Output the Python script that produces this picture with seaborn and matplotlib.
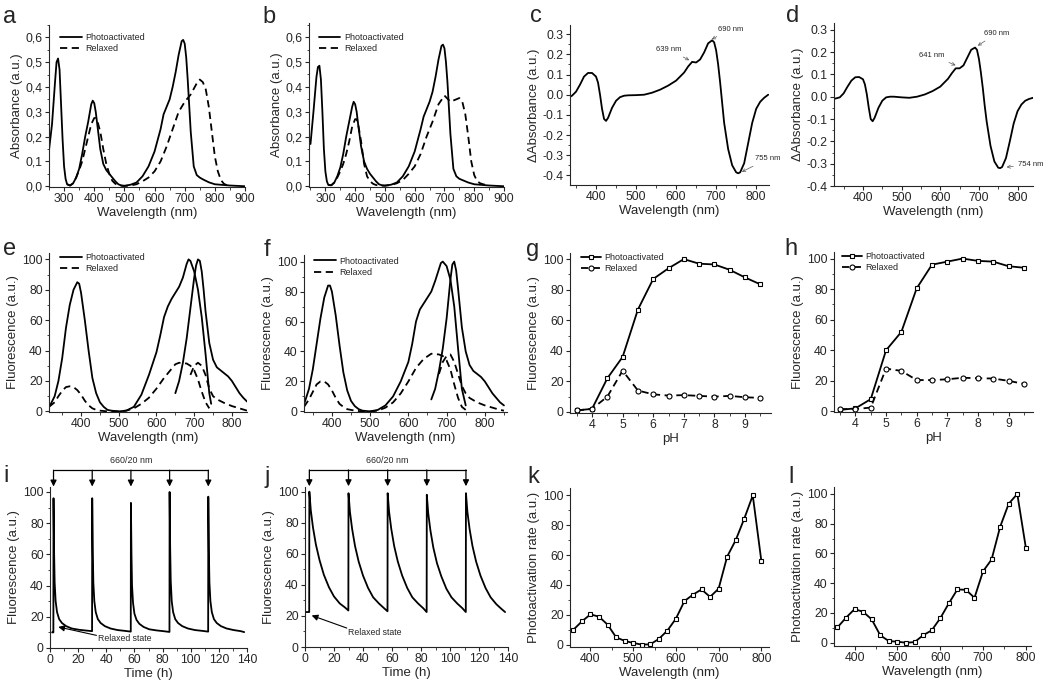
import numpy as np
import pandas as pd
import seaborn as sns
import matplotlib.pyplot as plt
from matplotlib.ticker import MultipleLocator, AutoMinorLocator, FuncFormatter

# ---------------- data ----------------
# a / b : absorbance spectra
abs_wl_pa = [250, 260, 270, 275, 280, 285, 290, 295, 300, 305,
             310, 320, 330, 340, 350, 360, 370, 380, 390, 395,
             400, 405, 410, 420, 430, 440, 450, 460, 470, 480,
             490, 500, 520, 540, 560, 580, 600, 620, 630, 640,
             650, 660, 670, 680, 690, 695, 700, 705, 710, 720,
             730, 740, 750, 760, 780, 800, 850, 900]
a_abs_pa = [0.145, 0.25, 0.42, 0.5, 0.515, 0.47, 0.33, 0.19, 0.08, 0.03,
            0.008, 0.003, 0.012, 0.035, 0.07, 0.13, 0.2, 0.26, 0.33, 0.345,
            0.335, 0.3, 0.25, 0.15, 0.09, 0.065, 0.05, 0.035, 0.02, 0.008,
            0.003, 0.002, 0.006, 0.015, 0.04, 0.08, 0.14, 0.23, 0.29, 0.32,
            0.35, 0.4, 0.46, 0.53, 0.585, 0.59, 0.575, 0.52, 0.43, 0.22,
            0.08, 0.045, 0.035, 0.028, 0.016, 0.008, 0.003, 0.0]
b_abs_pa = [0.17, 0.3, 0.44, 0.48, 0.485, 0.43, 0.3, 0.15, 0.06, 0.02,
            0.005, 0.004, 0.015, 0.04, 0.075, 0.13, 0.2, 0.26, 0.32, 0.34,
            0.33, 0.3, 0.25, 0.16, 0.1, 0.07, 0.05, 0.035, 0.02, 0.008,
            0.004, 0.003, 0.006, 0.015, 0.04, 0.08, 0.14, 0.23, 0.28, 0.31,
            0.34, 0.38, 0.44, 0.51, 0.565, 0.57, 0.555, 0.5, 0.42, 0.21,
            0.07, 0.04, 0.03, 0.025, 0.015, 0.008, 0.003, 0.0]
abs_wl_rx = [310, 320, 330, 340, 350, 360, 370, 380, 390, 400,
             405, 410, 420, 430, 440, 450, 460, 470, 480, 500,
             520, 540, 560, 580, 600, 620, 640, 660, 680, 700,
             720, 740, 750, 760, 770, 780, 790, 800, 810, 820,
             830, 840, 850]
a_abs_rx = [0.008, 0.003, 0.012, 0.035, 0.065, 0.1, 0.15, 0.2, 0.25, 0.275,
            0.275, 0.265, 0.22, 0.15, 0.09, 0.05, 0.022, 0.01, 0.004, 0.001,
            0.003, 0.008, 0.02, 0.035, 0.06, 0.1, 0.16, 0.23, 0.3, 0.34,
            0.37, 0.415, 0.43, 0.42, 0.39, 0.32, 0.22, 0.12, 0.06, 0.025,
            0.01, 0.004, 0.0]
b_abs_rx = [0.005, 0.004, 0.015, 0.035, 0.06, 0.09, 0.13, 0.18, 0.24, 0.27,
            0.27, 0.25, 0.18, 0.09, 0.04, 0.02, 0.01, 0.005, 0.003, 0.002,
            0.005, 0.012, 0.025, 0.05, 0.08, 0.13, 0.2, 0.26, 0.33, 0.365,
            0.34, 0.35, 0.355, 0.34, 0.29, 0.2, 0.1, 0.045, 0.02, 0.012,
            0.008, 0.005, 0.003]

# c / d : difference spectra
c_wl = [335, 340, 350, 360, 370, 380, 390, 400, 405, 410,
        415, 420, 425, 430, 440, 450, 460, 470, 480, 500,
        520, 540, 560, 580, 600, 620, 630, 640, 650, 660,
        670, 680, 690, 695, 700, 705, 710, 715, 720, 730,
        740, 750, 755, 760, 770, 780, 790, 800, 810, 820,
        830]
c_dabs = [-0.01, -0.005, 0.015, 0.05, 0.09, 0.108, 0.108, 0.09, 0.06, 0.0,
          -0.07, -0.12, -0.13, -0.115, -0.065, -0.03, -0.012, -0.005, -0.003, -0.002,
          0.0, 0.01, 0.025, 0.045, 0.07, 0.11, 0.14, 0.163, 0.16, 0.175,
          0.21, 0.255, 0.27, 0.26, 0.22, 0.15, 0.06, -0.04, -0.14, -0.27,
          -0.35, -0.385, -0.39, -0.385, -0.34, -0.24, -0.14, -0.07, -0.035, -0.015,
          0.0]
d_wl = [325, 340, 350, 360, 370, 380, 390, 400, 405, 410,
        415, 420, 425, 430, 440, 450, 460, 470, 480, 500,
        520, 540, 560, 580, 600, 620, 630, 640, 650, 660,
        670, 680, 690, 695, 700, 705, 710, 715, 720, 730,
        740, 750, 755, 760, 770, 780, 790, 800, 810, 820,
        830, 840]
d_dabs = [-0.01, -0.003, 0.015, 0.045, 0.072, 0.087, 0.088, 0.078, 0.055, 0.01,
          -0.05, -0.1, -0.11, -0.095, -0.05, -0.018, -0.003, 0.0, 0.0, -0.003,
          -0.005, 0.0, 0.01, 0.025, 0.045, 0.08, 0.105, 0.127, 0.127, 0.14,
          0.175, 0.21, 0.22, 0.21, 0.17, 0.11, 0.04, -0.04, -0.11, -0.22,
          -0.29, -0.318, -0.32, -0.315, -0.275, -0.2, -0.12, -0.065, -0.035, -0.018,
          -0.01, -0.005]

# e : fluorescence spectra
e_ex_wl = [315, 320, 330, 340, 350, 360, 370, 380, 390, 395,
           400, 410, 420, 430, 440, 450, 460, 470, 480, 500,
           520, 540, 560, 580, 600, 610, 620, 630, 640, 650,
           660, 670, 680, 685, 690, 700, 710, 720, 730, 740,
           745]
e_ex_pa = [3, 5, 10, 20, 35, 55, 70, 80, 85, 84,
           78, 60, 40, 22, 12, 6, 3, 1, 0.5, 0,
           0.5, 3, 11, 24, 39, 50, 62, 69, 74, 78,
           82, 88, 97, 100, 99, 92, 80, 62, 38, 12,
           5]
e_em_wl = [650, 660, 670, 680, 690, 700, 705, 710, 715, 720,
           725, 730, 740, 750, 760, 770, 780, 790, 800, 810,
           820, 830, 840]
e_em_pa = [12, 20, 32, 48, 68, 88, 96, 100, 99, 92,
           80, 66, 45, 34, 29, 27, 25, 23, 20, 16,
           12, 9, 6.5]
e_ex_rx_wl = [315, 330, 340, 350, 360, 370, 380, 390, 400, 410,
              420, 430, 440, 450, 470, 500, 520, 540, 560, 580,
              600, 620, 640, 650, 660, 680, 690, 700, 710, 720,
              730, 740]
e_ex_rx = [3, 6, 10, 13.5, 16, 16.5, 16, 14, 11, 7,
           4, 2, 1, 0.5, 0, 0, 0.5, 2, 5, 9,
           15, 22, 28, 31, 32, 31.5, 30, 27, 21, 13,
           6, 2]
e_em_rx_wl = [690, 700, 710, 720, 730, 740, 750, 760, 780, 800, 820, 840]
e_em_rx = [24, 30, 32, 30, 24, 15, 10, 8, 5.5, 3.5, 2, 0.5]

# f : fluorescence spectra
f_ex_wl = [327, 330, 340, 350, 360, 370, 380, 390, 395, 400,
           410, 420, 430, 440, 450, 460, 470, 480, 500, 520,
           540, 560, 580, 600, 610, 620, 630, 640, 650, 660,
           670, 680, 685, 690, 700, 710, 720, 730, 740, 750]
f_ex_pa = [5, 7, 15, 28, 45, 62, 76, 84, 84, 80,
           64, 44, 26, 14, 7, 3.5, 1.5, 0.5, 0, 1,
           4, 10, 20, 33, 45, 60, 68, 72, 76, 80,
           87, 95, 99, 100, 97, 88, 70, 42, 15, 4]
f_em_wl = [660, 670, 680, 690, 700, 705, 710, 715, 720, 725,
           730, 740, 750, 760, 770, 780, 790, 800, 810, 820,
           830, 840, 850]
f_em_pa = [8, 15, 27, 42, 62, 75, 88, 98, 100, 94,
           82, 56, 40, 31, 27, 25, 23, 20, 16, 12,
           9, 6, 4]
f_ex_rx_wl = [327, 340, 350, 360, 370, 380, 390, 400, 410, 420,
              430, 440, 460, 480, 500, 520, 540, 560, 580, 600,
              620, 640, 660, 680, 690, 700, 710, 720, 730, 740,
              750]
f_ex_rx = [3, 8, 13, 18, 20, 20, 18, 14, 9, 5,
           3, 1.5, 0.5, 0, 0, 0.5, 2.5, 6, 12, 20,
           29, 35, 38.5, 38, 37, 34, 28, 18, 9, 3,
           1]
f_em_rx_wl = [680, 690, 700, 710, 720, 730, 740, 750, 760, 780, 800, 820, 840, 850]
f_em_rx = [25, 33, 37, 38, 33, 25, 17, 12, 9, 6, 4, 2.5, 1, 0.5]

# g / h : pH dependence
ph = [3.5, 4.0, 4.5, 5.0, 5.5, 6.0, 6.5, 7.0, 7.5, 8.0, 8.5, 9.0, 9.5]
g_pa = [1, 2, 22, 36, 67, 87, 94, 100, 97, 96.5, 93, 88, 83.5]
g_rx = [1, 2, 10, 27, 14, 11.5, 10.7, 11, 10.5, 10, 10.5, 9.6, 9.2]
h_pa = [1, 2, 8, 40, 52, 80.5, 96, 98, 100, 98.5, 98, 95, 94]
h_rx = [1.5, 1.5, 2.5, 28, 26.5, 20.5, 20.5, 21, 22, 21.7, 21.5, 20, 18]

# i / j : photoswitching cycles
i_pulses = [2.5, 30.0, 57.5, 85.0, 112.5]
i_time = [1.5, 2.4,
          2.5, 2.9, 3.3, 4.0, 5.0, 6.5, 8.5, 11.5, 15.5, 20.5, 25.5, 29.9,
          30.0, 30.4, 30.8, 31.5, 32.5, 34.0, 36.0, 39.0, 43.0, 48.0, 53.0, 57.4,
          57.5, 57.9, 58.3, 59.0, 60.0, 61.5, 63.5, 66.5, 70.5, 75.5, 80.5, 84.9,
          85.0, 85.4, 85.8, 86.5, 87.5, 89.0, 91.0, 94.0, 98.0, 103.0, 108.0, 112.4,
          112.5, 112.9, 113.3, 114.0, 115.0, 116.5, 118.5, 121.5, 125.5, 130.5, 135.5, 138.0]
i_fluo = [10, 10,
          96, 62, 42, 30, 23, 18.5, 16, 14, 12.5, 11.7, 11.2, 10.8,
          96, 62, 42, 30, 23, 18.5, 16, 14, 12.5, 11.5, 11, 10.5,
          93, 60, 40, 29, 22, 18, 15.5, 13.5, 12, 11.3, 10.8, 10.3,
          100, 64, 43, 30, 23, 18.5, 16, 14, 12.5, 11.5, 11, 10.5,
          97, 62, 42, 30, 23, 18.5, 16, 14, 12.5, 11.5, 10.8, 10.2]
j_pulses = [3.0, 30.0, 57.0, 84.0, 111.0]
j_time = [0.5, 2.9,
          3.0, 4.0, 5.5, 7.5, 10.0, 13.0, 16.5, 20.0, 24.0, 27.5, 29.9,
          30.0, 31.0, 32.5, 34.5, 37.0, 40.0, 43.5, 47.0, 51.0, 54.5, 56.9,
          57.0, 58.0, 59.5, 61.5, 64.0, 67.0, 70.5, 74.0, 78.0, 81.5, 83.9,
          84.0, 85.0, 86.5, 88.5, 91.0, 94.0, 97.5, 101.0, 105.0, 108.5, 110.9,
          111.0, 112.0, 113.5, 115.5, 118.0, 121.0, 124.5, 128.0, 132.0, 135.5, 138.0]
j_fluo = [22.5, 22.5,
          100, 88, 77, 66, 56, 46.5, 38.5, 32.5, 28, 25.5, 23.5,
          99, 87, 76, 65, 55, 46, 38, 32, 28, 25, 23,
          99, 87, 76, 65, 55, 46, 38, 32, 28, 25, 22.5,
          98, 86, 75, 64, 54, 45.5, 37.5, 32, 28, 25, 22.5,
          99, 87, 76, 65, 55, 46, 38, 32, 27.5, 24.5, 22.5]

# k / l : photoactivation action spectra
act_wl = [360, 380, 400, 420, 440, 460, 480, 500, 520, 540, 560, 580,
          600, 620, 640, 660, 680, 700, 720, 740, 760, 780, 800]
k_rate = [10, 15.6, 20.3, 18.7, 13.4, 4.9, 2.5, 1.1, 0, 0.2, 3.8, 9.4,
          17.4, 29.2, 33.5, 37, 32, 37.5, 59, 70, 84.4, 100, 56.3]
l_rate = [10.3, 16.8, 22.6, 20.8, 15.7, 5, 1.1, 0.7, 0, 0.4, 5, 8.3,
          16.4, 26.4, 35.8, 35.6, 30.2, 48, 56, 78, 93.5, 100, 63.8]

# ---------------- style ----------------
sns.set_style('ticks')
plt.rcParams['font.family'] = ['Liberation Sans', 'DejaVu Sans']
plt.rcParams['axes.unicode_minus'] = False
plt.rcParams['axes.linewidth'] = 0.8

W, H = 1050, 686
fig = plt.figure(figsize=(10.5, 6.86), dpi=100)
LW = 1.3
DASH = (0, (4, 2.5))


def make_ax(x0, x1, y0, y1):
    return fig.add_axes([x0 / W, 1 - y1 / H, (x1 - x0) / W, (y1 - y0) / H])


def style_ax(ax, xlim, ylim, xstep, ystep, xlabel, ylabel):
    ax.set_xlim(xlim)
    ax.set_ylim(ylim)
    ax.xaxis.set_major_locator(MultipleLocator(xstep))
    ax.yaxis.set_major_locator(MultipleLocator(ystep))
    ax.xaxis.set_minor_locator(AutoMinorLocator(2))
    ax.yaxis.set_minor_locator(AutoMinorLocator(2))
    sns.despine(ax=ax)
    ax.set_xlabel(xlabel, fontsize=9.5, labelpad=1)
    ax.set_ylabel(ylabel, fontsize=9.5, labelpad=2)
    ax.tick_params(which='major', labelsize=8.8, length=3, width=0.8, pad=1.5)
    ax.tick_params(which='minor', length=1.8, width=0.6)


def line(ax, x, y, dashed=False, label=None, **kw):
    sns.lineplot(x=x, y=y, ax=ax, color='k', lw=LW, estimator=None, sort=False,
                 linestyle=DASH if dashed else '-', label=label, **kw)


def legend(ax, anchor, hl=2.4):
    ax.legend(loc='upper left', bbox_to_anchor=anchor, frameon=False, fontsize=6.5,
              handlelength=hl, handletextpad=0.4, labelspacing=0.25,
              borderaxespad=0, borderpad=0)


comma = FuncFormatter(lambda v, p: f'{v:.1f}'.replace('.', ','))

# a
ax = make_ax(49, 245, 25, 187)
line(ax, abs_wl_pa, a_abs_pa, label='Photoactivated')
line(ax, abs_wl_rx, a_abs_rx, dashed=True, label='Relaxed')
style_ax(ax, (250, 900), (-0.003, 0.65), 100, 0.1, 'Wavelength (nm)', 'Absorbance (a.u.)')
ax.yaxis.set_major_formatter(comma)
legend(ax, (0.056, 0.95))

# b
ax = make_ax(309, 504, 23, 187)
line(ax, abs_wl_pa, b_abs_pa, label='Photoactivated')
line(ax, abs_wl_rx, b_abs_rx, dashed=True, label='Relaxed')
style_ax(ax, (245, 900), (-0.003, 0.657), 100, 0.1, 'Wavelength (nm)', 'Absorbance (a.u.)')
ax.yaxis.set_major_formatter(comma)
legend(ax, (0.05, 0.94))

arrow_small = dict(arrowstyle='->', lw=0.5, color='0.35', shrinkA=1, shrinkB=1)

# c
ax = make_ax(570, 769, 25, 185)
line(ax, c_wl, c_dabs)
style_ax(ax, (335, 832), (-0.448, 0.346), 100, 0.1, 'Wavelength (nm)', 'ΔAbsorbance (a.u.)')
ax.annotate('639 nm', xy=(636, 0.168), xytext=(582, 0.224), fontsize=5.5, ha='center', va='center', arrowprops=arrow_small)
ax.annotate('690 nm', xy=(686, 0.272), xytext=(737, 0.325), fontsize=5.5, ha='center', va='center', arrowprops=arrow_small)
ax.annotate('755 nm', xy=(761, -0.386), xytext=(829, -0.318), fontsize=5.5, ha='center', va='center', arrowprops=arrow_small, annotation_clip=False)

# d
ax = make_ax(834, 1033, 23, 186)
line(ax, d_wl, d_dabs)
style_ax(ax, (325, 840), (-0.4, 0.33), 100, 0.1, 'Wavelength (nm)', 'ΔAbsorbance (a.u.)')
ax.annotate('641 nm', xy=(643, 0.138), xytext=(578, 0.186), fontsize=5.5, ha='center', va='center', arrowprops=arrow_small)
ax.annotate('690 nm', xy=(694, 0.225), xytext=(746, 0.283), fontsize=5.5, ha='center', va='center', arrowprops=arrow_small)
ax.annotate('754 nm', xy=(768, -0.316), xytext=(834, -0.305), fontsize=5.5, ha='center', va='center', arrowprops=arrow_small, annotation_clip=False)

# e
ax = make_ax(49, 247, 253, 412)
line(ax, e_ex_wl, e_ex_pa, label='Photoactivated')
line(ax, e_ex_rx_wl, e_ex_rx, dashed=True, label='Relaxed')
line(ax, e_em_wl, e_em_pa)
line(ax, e_em_rx_wl, e_em_rx, dashed=True)
style_ax(ax, (315, 840), (-0.4, 104.2), 100, 20, 'Wavelength (nm)', 'Fluorescence (a.u.)')
legend(ax, (0.056, 1.0))

# f
ax = make_ax(304, 507, 255, 412)
line(ax, f_ex_wl, f_ex_pa, label='Photoactivated')
line(ax, f_ex_rx_wl, f_ex_rx, dashed=True, label='Relaxed')
line(ax, f_em_wl, f_em_pa)
line(ax, f_em_rx_wl, f_em_rx, dashed=True)
style_ax(ax, (327, 858), (-0.4, 104.4), 100, 20, 'Wavelength (nm)', 'Fluorescence (a.u.)')
legend(ax, (0.05, 0.99))

sq = dict(marker='s', markersize=3.5, markerfacecolor='white', markeredgecolor='k', markeredgewidth=0.8)
ci = dict(marker='o', markersize=3.6, markerfacecolor='white', markeredgecolor='k', markeredgewidth=0.8)

# g
ax = make_ax(570, 771, 253, 413)
line(ax, ph, g_pa, label='Photoactivated', **sq)
line(ax, ph, g_rx, dashed=True, label='Relaxed', **ci)
style_ax(ax, (3.28, 9.85), (-0.7, 104), 1, 20, 'pH', 'Fluorescence (a.u.)')
legend(ax, (0.055, 1.0), hl=2.2)

# h
ax = make_ax(834, 1033, 252, 412)
line(ax, ph, h_pa, label='Photoactivated', **sq)
line(ax, ph, h_rx, dashed=True, label='Relaxed', **ci)
style_ax(ax, (3.3, 9.8), (-0.4, 104.3), 1, 20, 'pH', 'Fluorescence (a.u.)')
legend(ax, (0.04, 1.0), hl=2.2)

head = dict(arrowstyle='-|>', lw=0.9, color='k', mutation_scale=9, shrinkA=0, shrinkB=0)
relax_arrow = dict(arrowstyle='-|>', lw=0.8, color='k', mutation_scale=9, shrinkA=0, shrinkB=0)


def pulses(ax, times):
    ax.plot([times[0], times[-1]], [114, 114], color='k', lw=0.9, clip_on=False)
    for t in times:
        ax.annotate('', xy=(t, 103.5), xytext=(t, 114), arrowprops=head, annotation_clip=False)
    ax.text((times[0] + times[-1]) / 2, 117, '660/20 nm', fontsize=6.4, ha='center', va='bottom')


# i
ax = make_ax(50, 247, 487, 648)
line(ax, i_time, i_fluo)
style_ax(ax, (0, 140), (0, 103.2), 20, 20, 'Time (h)', 'Fluorescence (a.u.)')
pulses(ax, i_pulses)
ax.annotate('', xy=(5.9, 13.5), xytext=(33, 8.1), arrowprops=relax_arrow)
ax.text(34.4, 6.4, 'Relaxed state', fontsize=6.3, ha='left', va='center')

# j
ax = make_ax(305, 508, 487, 647)
line(ax, j_time, j_fluo)
style_ax(ax, (0, 140), (0, 103), 20, 20, 'Time (h)', 'Fluorescence (a.u.)')
pulses(ax, j_pulses)
ax.annotate('', xy=(4.6, 20.3), xytext=(28.8, 12.2), arrowprops=relax_arrow)
ax.text(30, 9.4, 'Relaxed state', fontsize=6.3, ha='left', va='center')

# k
ax = make_ax(570, 769, 488, 647)
line(ax, act_wl, k_rate, **sq)
style_ax(ax, (352, 818), (-1.6, 105), 100, 20, 'Wavelength (nm)', 'Photoactivation rate (a.u.)')

# l
ax = make_ax(834, 1031, 487, 646)
line(ax, act_wl, l_rate, **sq)
style_ax(ax, (352, 812), (-2.2, 104.7), 100, 20, 'Wavelength (nm)', 'Photoactivation rate (a.u.)')

# panel letters
letters = ['a', 'b', 'c', 'd', 'e', 'f', 'g', 'h', 'i', 'j', 'k', 'l']
letter_xy = [(3, 23), (262, 23), (530, 22), (786, 22),
             (3, 255), (264, 256), (526, 256), (784, 255),
             (3, 482), (264, 483), (527, 483), (788, 483)]
for s, (x, y) in zip(letters, letter_xy):
    fig.text(x / W, 1 - y / H, s, fontsize=17, ha='left', va='baseline')

fig.savefig('out.png', dpi=100, facecolor='white')
